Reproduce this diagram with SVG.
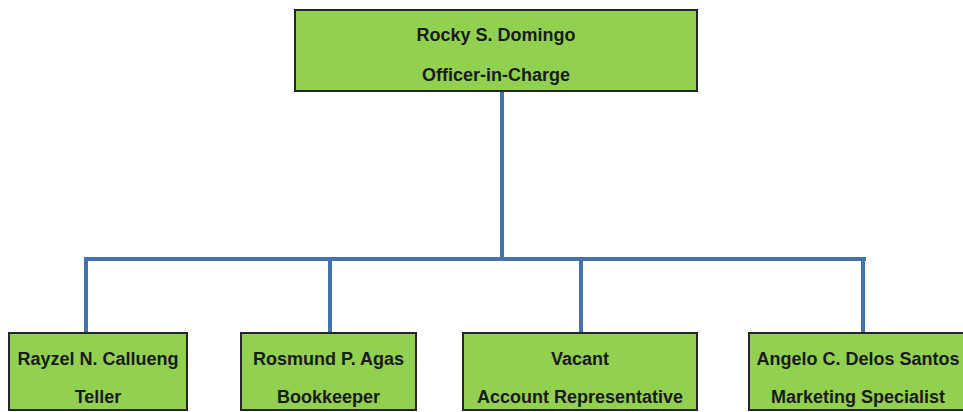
<svg xmlns="http://www.w3.org/2000/svg" width="963" height="412" viewBox="0 0 963 412">
<style>
.box{fill:#92d050;stroke:#262626;stroke-width:2}
.t{font-family:"Liberation Sans",Arial,sans-serif;font-weight:bold;font-size:18px;fill:#1a1a1a;text-anchor:middle}
.c{stroke:#4272b0;stroke-width:4;fill:none;stroke-linecap:square}
</style>
<rect width="963" height="412" fill="#ffffff"/>
<g id="connectors">
<path class="c" d="M502 92 V259"/>
<path class="c" d="M86 259 H864"/>
<path class="c" d="M86 259 V332"/>
<path class="c" d="M330 259 V332"/>
<path class="c" d="M581 259 V332"/>
<path class="c" d="M863 259 V332"/>
</g>
<g id="n-officer">
<rect class="box" x="295" y="10" width="402" height="81"/>
<text class="t" x="496" y="41">Rocky S. Domingo</text>
<text class="t" x="496" y="81">Officer-in-Charge</text>
</g>
<g id="n-teller">
<rect class="box" x="9" y="333" width="178" height="77"/>
<text class="t" x="98" y="365">Rayzel N. Callueng</text>
<text class="t" x="98" y="403">Teller</text>
</g>
<g id="n-bookkeeper">
<rect class="box" x="241" y="333" width="175" height="77"/>
<text class="t" x="328.5" y="365">Rosmund P. Agas</text>
<text class="t" x="328.5" y="403">Bookkeeper</text>
</g>
<g id="n-account">
<rect class="box" x="463" y="333" width="234" height="77"/>
<text class="t" x="580" y="365">Vacant</text>
<text class="t" x="580" y="403">Account Representative</text>
</g>
<g id="n-marketing">
<rect class="box" x="749" y="333" width="218" height="77"/>
<text class="t" x="858" y="365">Angelo C. Delos Santos</text>
<text class="t" x="858" y="403">Marketing Specialist</text>
</g>
</svg>
